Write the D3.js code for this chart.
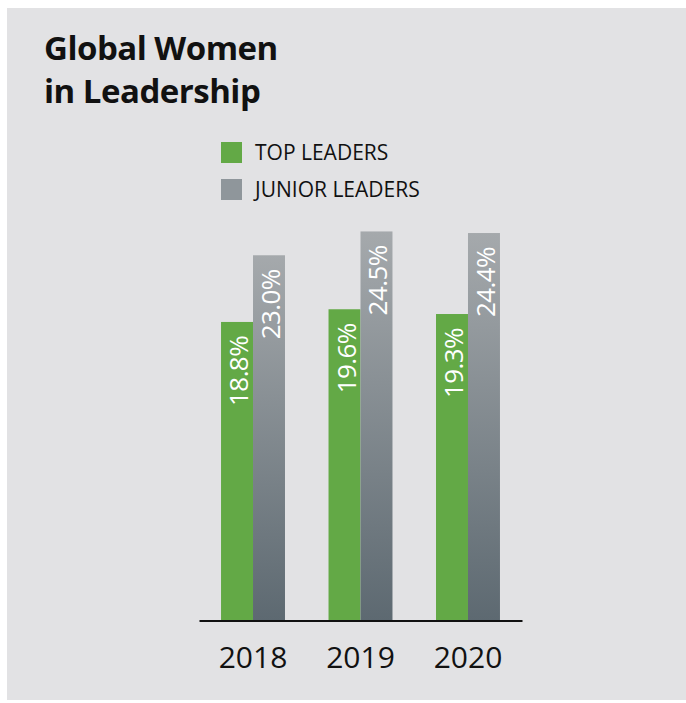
<!DOCTYPE html>
<html>
<head>
<meta charset="utf-8">
<script src="https://cdn.jsdelivr.net/npm/d3@7"></script>
<style>
  html, body { margin: 0; padding: 0; background: #ffffff; }
  svg { display: block; }
  text { font-family: "Open Sans", "Noto Sans", sans-serif; }
</style>
</head>
<body>
<svg id="chart" width="686" height="703"></svg>
<script>
// data
const years = ["2018", "2019", "2020"];
const series = ["top", "junior"];
const seriesNames = ["TOP LEADERS", "JUNIOR LEADERS"];
const topLeaders = [18.8, 19.6, 19.3];
const juniorLeaders = [23.0, 24.5, 24.4];
const titleLines = ["Global Women", "in Leadership"];

const svg = d3.select("svg#chart");
const green = "#63a946";

// panel background
svg.append("rect")
    .attr("x", 7)
    .attr("y", 8)
    .attr("width", 679)
    .attr("height", 692)
    .attr("fill", "#e2e2e4");

// title
svg.append("g")
    .selectAll("text")
    .data(titleLines)
    .join("text")
    .attr("x", 44)
    .attr("y", (d, i) => 60 + i * 43)
    .style("font-size", "33px")
    .style("font-weight", "bold")
    .style("letter-spacing", "-0.5px")
    .attr("fill", "#111")
    .text((d) => d);

// gradient for junior bars
let defs = svg.append("defs");
let grad = defs.append("linearGradient")
    .attr("id", "grayGrad")
    .attr("x1", 0).attr("y1", 0)
    .attr("x2", 0).attr("y2", 1);
grad.append("stop").attr("offset", "0%").attr("stop-color", "#a5a9ac");
grad.append("stop").attr("offset", "100%").attr("stop-color", "#5d6971");

// legend
const legendFill = [green, "#8f969b"];
let legend = svg.append("g").attr("transform", "translate(221,142)");
let legendItems = legend.selectAll("g")
    .data(seriesNames)
    .join("g")
    .attr("transform", (d, i) => `translate(0,${i * 37})`);
legendItems.append("rect")
    .attr("width", 21)
    .attr("height", 21)
    .attr("fill", (d, i) => legendFill[i]);
legendItems.append("text")
    .attr("x", 34)
    .attr("y", 18)
    .style("font-size", "21px")
    .attr("fill", "#111")
    .text((d) => d);

// scales
const baseY = 620.5;
let xScale = d3.scaleBand()
    .domain(years)
    .range([199, 522])
    .paddingInner(0.405)
    .paddingOuter(0.205);
let subScale = d3.scaleBand()
    .domain(series)
    .range([0, xScale.bandwidth()]);
let yScale = d3.scaleLinear()
    .domain([0, 25])
    .range([baseY, baseY - 25 * 15.88]);

const rows = years.map((y, i) => ({
    year: y,
    values: [
        { key: "top", value: topLeaders[i] },
        { key: "junior", value: juniorLeaders[i] },
    ],
}));

let groups = svg.append("g")
    .selectAll("g")
    .data(rows)
    .join("g")
    .attr("transform", (d) => `translate(${xScale(d.year)},0)`);

groups.selectAll("rect")
    .data((d) => d.values)
    .join("rect")
    .attr("x", (d) => subScale(d.key))
    .attr("y", (d) => yScale(d.value))
    .attr("width", subScale.bandwidth())
    .attr("height", (d) => baseY - yScale(d.value))
    .attr("fill", (d) => d.key === "top" ? green : "url(#grayGrad)");

// value labels, rotated
groups.selectAll("text.val")
    .data((d) => d.values)
    .join("text")
    .attr("class", "val")
    .attr("transform", (d) =>
        `translate(${subScale(d.key) + subScale.bandwidth() / 2 + 1},${yScale(d.value) + 14}) rotate(-90)`)
    .attr("text-anchor", "end")
    .attr("dominant-baseline", "central")
    .attr("fill", "#fff")
    .style("font-size", "26px")
    .style("letter-spacing", "-0.6px")
    .text((d) => d.value.toFixed(1) + "%");

// x axis
let xAxis = d3.axisBottom(xScale)
    .tickSize(0)
    .tickSizeOuter(0)
    .tickPadding(26);
let axisG = svg.append("g")
    .attr("transform", `translate(0,${baseY})`)
    .call(xAxis);
axisG.select(".domain")
    .attr("stroke", "#111")
    .attr("stroke-width", 2);
axisG.selectAll(".tick text")
    .attr("fill", "#111")
    .style("font-size", "30px")
    .style("font-family", "'Open Sans', sans-serif");
</script>
</body>
</html>
